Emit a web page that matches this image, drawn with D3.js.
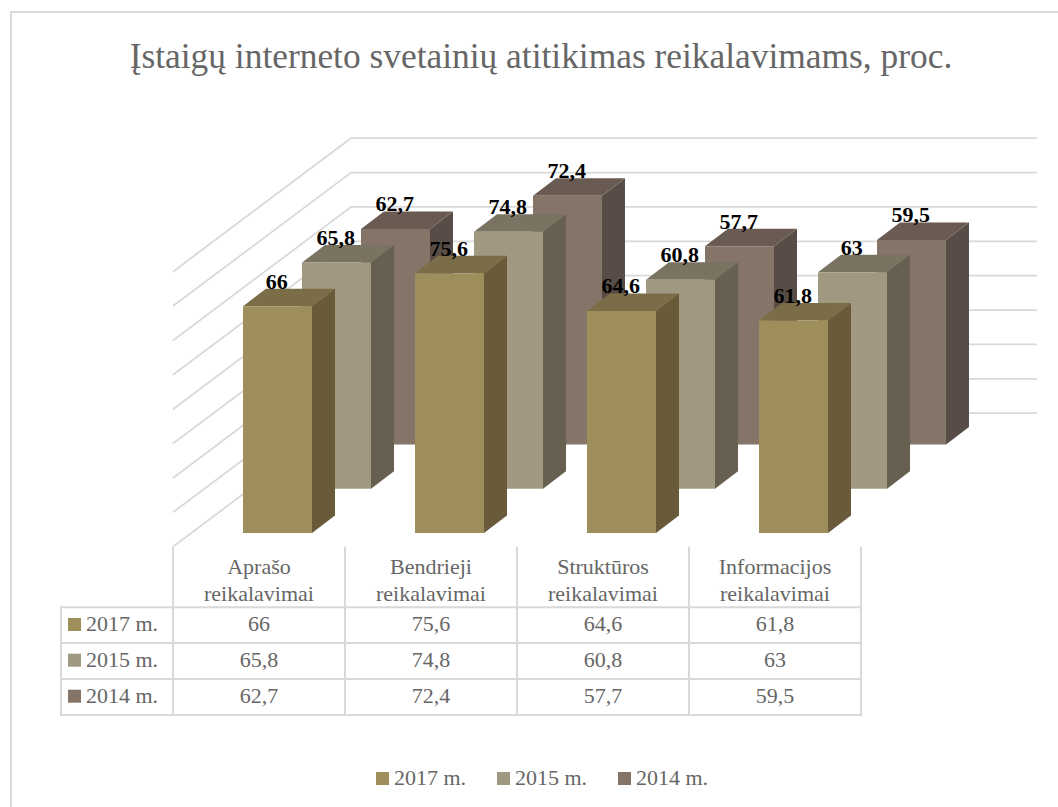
<!DOCTYPE html>
<html>
<head>
<meta charset="utf-8">
<script src="https://cdn.jsdelivr.net/npm/d3@7"></script>
<style>
  html, body { margin: 0; padding: 0; background: #fff; }
  svg { display: block; }
  text { font-family: "Liberation Serif", serif; }
</style>
</head>
<body>
<div id="chart"></div>
<script>
const categories = ['Aprašo reikalavimai', 'Bendrieji reikalavimai', 'Struktūros reikalavimai', 'Informacijos reikalavimai'];
const seriesNames = ['2017 m.', '2015 m.', '2014 m.'];
const values2017 = [66, 75.6, 64.6, 61.8];
const values2015 = [65.8, 74.8, 60.8, 63];
const values2014 = [62.7, 72.4, 57.7, 59.5];
const valueTicks = [0, 10, 20, 30, 40, 50, 60, 70, 80];

const seriesValues = [values2017, values2015, values2014];
const frontColors = ['#9e8e5c', '#a09880', '#857568'];
const sideColors = ['#695b39', '#675f50', '#574d46'];
const topColors = ['#7a6d47', '#7a7362', '#695b51'];

const width = 1058, height = 807;
const gridColor = '#d9d9d9';
const textColor = '#666666';
const fmt = v => String(v).replace('.', ',');

const svg = d3.select('#chart').append('svg')
    .attr('width', width)
    .attr('height', height);

// chart frame, only top and left edges are in the picture
svg.append('path')
    .attr('d', d3.line()([[11, height], [11, 12], [width, 12]]))
    .attr('fill', 'none')
    .attr('stroke', gridColor)
    .attr('stroke-width', 2);

svg.append('text')
    .attr('x', 541).attr('y', 68)
    .attr('text-anchor', 'middle')
    .attr('font-size', 35.4)
    .attr('fill', textColor)
    .text('Įstaigų interneto svetainių atitikimas reikalavimams, proc.');

// scales
const x = d3.scaleBand().domain(categories).range([173, 861]);
const h = d3.scaleLinear().domain([0, 80]).range([0, 275]);
const depth = d3.scalePoint().domain(seriesNames).range([0, 59 * 2]);
const skew = 0.75;
const barInset = 70, barWidth = 69, barDepth = 23;
const floorFront = 546.7, floorDepth = 178;
const baseFront = 533;

// walls
const grid = svg.append('g')
    .attr('fill', 'none')
    .attr('stroke', gridColor)
    .attr('stroke-width', 1.8);

valueTicks.forEach(t => {
    const yFront = floorFront - h(t);
    const yBack = yFront - floorDepth * skew;
    grid.append('path')
        .attr('d', d3.line()([[173, yFront], [173 + floorDepth, yBack], [1037, yBack]]));
});

// bars, back row first
const barsG = svg.append('g');
const labelsG = svg.append('g');

d3.range(seriesNames.length - 1, -1, -1).forEach(s => {
    const name = seriesNames[s];
    const dx = depth(name);
    const base = baseFront - dx * skew;
    categories.forEach((c, i) => {
        const v = seriesValues[s][i];
        const left = x(c) + barInset + dx;
        const right = left + barWidth;
        const top = base - h(v);
        const ox = barDepth, oy = barDepth * 0.76;
        const poly = pts => barsG.append('polygon').attr('points', pts.map(p => p.join(',')).join(' '));

        poly([[right, top], [right + ox, top - oy], [right + ox, base - oy], [right, base]])
            .attr('fill', sideColors[s]);
        poly([[left, top], [left + ox, top - oy], [right + ox, top - oy], [right, top]])
            .attr('fill', topColors[s]);
        poly([[left, top], [right, top], [right, base], [left, base]])
            .attr('fill', frontColors[s]);

        labelsG.append('text')
            .attr('x', left + barWidth / 2 - 0.8)
            .attr('y', top - oy)
            .attr('text-anchor', 'middle')
            .attr('font-size', 22)
            .attr('font-weight', 'bold')
            .attr('fill', '#000')
            .text(fmt(v));
    });
});

// data table
const rowTops = [607.3, 643, 679];
const table = svg.append('g')
    .attr('fill', 'none')
    .attr('stroke', gridColor)
    .attr('stroke-width', 2);

[607.3, 643, 679, 715].forEach(y => {
    table.append('line').attr('x1', 60).attr('x2', 862).attr('y1', y).attr('y2', y);
});
table.append('line').attr('x1', 61).attr('x2', 61).attr('y1', 607.3).attr('y2', 715);
categories.forEach(c => {
    table.append('line').attr('x1', x(c)).attr('x2', x(c)).attr('y1', floorFront).attr('y2', 715);
});
table.append('line').attr('x1', 861).attr('x2', 861).attr('y1', floorFront).attr('y2', 715);

const tableText = svg.append('g')
    .attr('font-size', 22)
    .attr('fill', textColor);

categories.forEach(c => {
    const cx = x(c) + x.bandwidth() / 2;
    const [line1, line2] = c.split(' ');
    tableText.append('text').attr('x', cx).attr('y', 574).attr('text-anchor', 'middle').text(line1);
    tableText.append('text').attr('x', cx).attr('y', 601).attr('text-anchor', 'middle').text(line2);
});

seriesNames.forEach((name, s) => {
    svg.append('rect')
        .attr('x', 68).attr('y', rowTops[s] + 10.7)
        .attr('width', 13).attr('height', 13)
        .attr('fill', frontColors[s]);
    tableText.append('text')
        .attr('x', 86).attr('y', rowTops[s] + 24)
        .text(name);
    categories.forEach((c, i) => {
        tableText.append('text')
            .attr('x', x(c) + x.bandwidth() / 2)
            .attr('y', rowTops[s] + 24)
            .attr('text-anchor', 'middle')
            .text(fmt(seriesValues[s][i]));
    });
});

// legend
const legendX = d3.scalePoint().domain(seriesNames).range([376, 618]);
seriesNames.forEach((name, s) => {
    svg.append('rect')
        .attr('x', legendX(name)).attr('y', 772)
        .attr('width', 13).attr('height', 13)
        .attr('fill', frontColors[s]);
    svg.append('text')
        .attr('x', legendX(name) + 18).attr('y', 785)
        .attr('font-size', 22)
        .attr('fill', textColor)
        .text(name);
});
</script>
</body>
</html>
